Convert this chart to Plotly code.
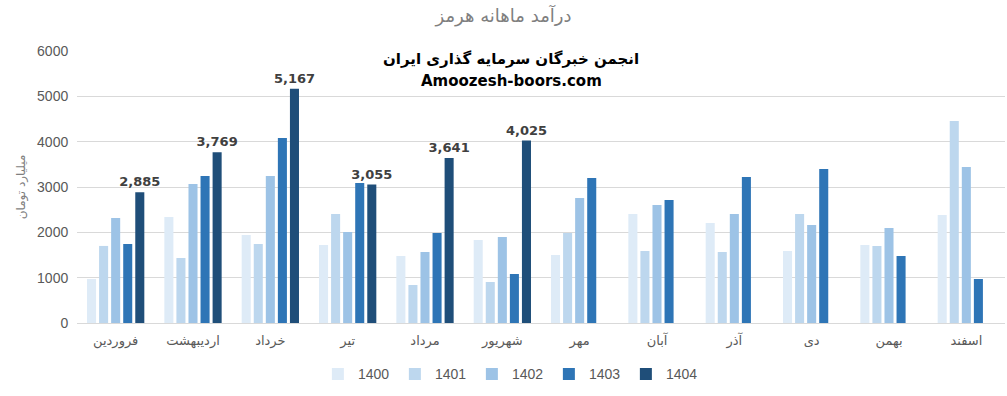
import plotly.graph_objects as go

months = ["فروردین", "اردیبهشت", "خرداد", "تیر", "مرداد", "شهریور",
          "مهر", "آبان", "آذر", "دی", "بهمن", "اسفند"]
years = ["1400", "1401", "1402", "1403", "1404"]

v1400 = [970, 2338, 1941, 1721, 1478, 1831, 1500, 2404, 2206, 1588, 1721, 2382]
v1401 = [1700, 1434, 1743, 2404, 838, 904, 1985, 1588, 1566, 2404, 1699, 4456]
v1402 = [2316, 3066, 3243, 2007, 1566, 1897, 2757, 2603, 2404, 2162, 2096, 3441]
v1403 = [1743, 3243, 4081, 3088, 1985, 1081, 3199, 2713, 3221, 3397, 1478, 971]
v1404 = [2885, 3769, 5167, 3055, 3641, 4025, None, None, None, None, None, None]

series = [v1400, v1401, v1402, v1403, v1404]
colors = ["#DEEBF7", "#BDD7EE", "#9DC3E6", "#2E75B6", "#1F4E79"]

fig = go.Figure()
for name, vals, col in zip(years, series, colors):
    kw = {}
    if name == "1404":
        kw = dict(
            text=[f"{v:,}" if v is not None else "" for v in vals],
            textposition="outside",
            textfont=dict(family="DejaVu Sans", size=13, color="#404040", weight="bold"),
            cliponaxis=False,
            constraintext="none",
        )
    fig.add_trace(go.Bar(name=name, x=months, y=vals, marker=dict(color=col, line=dict(width=0)),
                         hoverinfo="skip", **kw))

fig.update_layout(
    width=1007, height=396,
    margin=dict(l=77, r=2, t=51, b=73, autoexpand=False),
    paper_bgcolor="white", plot_bgcolor="white",
    barmode="group", bargap=0.22, bargroupgap=0.25,
    title=dict(text="درآمد ماهانه هرمز", x=0.5, xanchor="center", y=0.96, yanchor="middle",
               font=dict(family="DejaVu Sans", size=18, color="#7F7F7F")),
    font=dict(family="DejaVu Sans", color="#595959"),
    xaxis=dict(showgrid=False, showline=True, linecolor="#D9D9D9", linewidth=1,
               tickfont=dict(size=13, color="#595959"), ticks="", ticklabelstandoff=5),
    yaxis=dict(range=[0, 6000], dtick=1000, showgrid=True, gridcolor="#D9D9D9", gridwidth=1,
               zeroline=False, tickfont=dict(family="Liberation Sans", size=14, color="#595959"),
               ticksuffix="  ",
               title=dict(text="میلیارد تومان", font=dict(size=12, color="#7F7F7F"), standoff=8)),
    legend=dict(orientation="h", x=0.467, xanchor="center", y=-0.13, yanchor="top",
                font=dict(family="Liberation Sans", size=14, color="#595959"),
                itemwidth=30, traceorder="normal", entrywidth=32, entrywidthmode="pixels"),
    annotations=[
        dict(text="<b>انجمن خبرگان سرمایه گذاری ایران</b>", x=0.468, xref="paper", y=5820, yref="y",
             showarrow=False, font=dict(family="DejaVu Sans", size=15, color="#000000")),
        dict(text="<b>Amoozesh-boors.com</b>", x=0.468, xref="paper", y=5330, yref="y",
             showarrow=False, font=dict(family="DejaVu Sans", size=15, color="#000000")),
    ],
)

fig.write_html("out.html")
